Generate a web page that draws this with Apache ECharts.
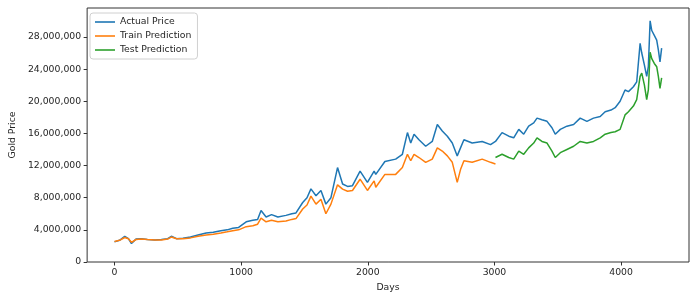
<!DOCTYPE html>
<html lang="en">
<head>
    <meta charset="UTF-8">
    <title>Gold Price</title>
    <script src="https://cdn.jsdelivr.net/npm/echarts@6/dist/echarts.min.js"></script>
    <style>
        html, body { margin: 0; padding: 0; background: #fff; }
        #chart { width: 694px; height: 297px; }
    </style>
</head>
<body>
<div id="chart"></div>
<script type="text/javascript">
    const days = [0, 40, 81, 110, 134, 170, 213, 260, 320, 370, 420, 449, 490, 540, 600, 660, 724, 780, 840, 890,
        934, 980, 1040, 1092, 1130, 1157, 1197, 1240, 1290, 1354, 1400, 1433, 1486, 1520, 1551, 1591, 1630, 1669, 1709, 1761,
        1801, 1840, 1879, 1939, 1997, 2050, 2063, 2135, 2220, 2273, 2313, 2339, 2365, 2404, 2457, 2509, 2549, 2588, 2628, 2667,
        2706, 2732, 2759, 2824, 2903, 2969, 3008, 3060, 3113, 3152, 3192, 3231, 3270, 3310, 3336, 3375, 3415, 3454, 3480, 3520,
        3572, 3625, 3677, 3730, 3782, 3835, 3874, 3920, 3953, 3992, 4031, 4058, 4097, 4123, 4150, 4163, 4184, 4202, 4215, 4229,
        4242, 4262, 4281, 4294, 4307, 4320];

    const actualPrice = [2500000, 2700000, 3200000, 2900000, 2300000, 2850000, 2900000, 2800000, 2750000, 2800000,
        2900000, 3200000, 2900000, 2950000, 3100000, 3350000, 3600000, 3700000, 3900000, 4000000,
        4200000, 4300000, 5000000, 5200000, 5300000, 6400000, 5600000, 5900000, 5600000, 5800000,
        6000000, 6100000, 7400000, 8000000, 9100000, 8250000, 8900000, 7200000, 8000000, 11750000,
        9700000, 9400000, 9500000, 11300000, 9900000, 11300000, 10900000, 12500000, 12800000, 13400000,
        16100000, 14800000, 15900000, 15200000, 14400000, 15000000, 17100000, 16300000, 15650000, 14800000,
        13200000, 14200000, 15200000, 14800000, 15000000, 14600000, 15000000, 16100000, 15650000, 15450000,
        16500000, 15900000, 16900000, 17300000, 17900000, 17700000, 17500000, 16700000, 15900000, 16500000,
        16900000, 17100000, 17900000, 17500000, 17900000, 18100000, 18700000, 18900000, 19200000, 20000000,
        21400000, 21200000, 21800000, 22400000, 27200000, 26000000, 24500000, 23100000, 24300000, 30000000,
        28800000, 28200000, 27600000, 26400000, 24900000, 26600000];

    // train prediction covers the first part, null afterwards
    const trainPrediction = [2550000, 2700000, 3050000, 2900000, 2450000, 2800000, 2850000, 2800000, 2750000, 2750000,
        2850000, 3100000, 2900000, 2900000, 3000000, 3200000, 3350000, 3450000, 3600000, 3750000,
        3900000, 4000000, 4400000, 4500000, 4700000, 5450000, 5000000, 5200000, 5000000, 5100000,
        5300000, 5400000, 6600000, 7100000, 8200000, 7200000, 7800000, 6000000, 7200000, 9600000,
        9070000, 8800000, 8900000, 10300000, 8900000, 10100000, 9300000, 10900000, 10900000, 11750000,
        13400000, 12600000, 13400000, 13000000, 12400000, 12800000, 14200000, 13800000, 13200000, 12400000,
        9900000, 11500000, 12600000, 12400000, 12800000, 12400000, 12200000];

    // test prediction starts where train stops
    const testStart = 66; // index into days
    const testPrediction = [13000000, 13400000, 13000000, 12800000, 13800000, 13400000, 14200000, 14800000, 15450000,
        15000000, 14800000, 13800000, 13000000, 13600000, 14000000, 14400000, 15000000, 14800000, 15000000,
        15450000, 15900000, 16100000, 16200000, 16500000, 18300000, 18700000, 19400000, 20200000, 23100000,
        23500000, 22000000, 20200000, 21400000, 26100000, 25300000, 24700000, 24300000, 23100000, 21600000, 22900000];

    const xTicks = [0, 1000, 2000, 3000, 4000];
    const yTicks = [0, 4000000, 8000000, 12000000, 16000000, 20000000, 24000000, 28000000];

    const actualData = days.map((d, i) => [d, actualPrice[i]]);
    const trainData = trainPrediction.map((v, i) => [days[i], v]);
    const testData = testPrediction.map((v, i) => [days[testStart + i], v]);

    const textColor = '#262626';
    const font = 'DejaVu Sans';

    let chart = echarts.init(document.getElementById('chart'));
    let option = {
        animation: false,
        textStyle: {fontFamily: font},
        grid: {
            left: 86, right: 5, top: 8, bottom: 34,
            show: true, borderColor: '#333', borderWidth: 1,
            containLabel: false
        },
        legend: {
            orient: 'vertical',
            left: 90, top: 13,
            icon: 'rect',
            itemWidth: 20, itemHeight: 1.6,
            itemGap: 4,
            padding: [4, 6, 4, 5],
            borderColor: '#d0d0d0', borderWidth: 1, borderRadius: 3,
            backgroundColor: '#fff',
            textStyle: {fontSize: 9.3, color: textColor, fontFamily: font, lineHeight: 10},
            data: ['Actual Price', 'Train Prediction', 'Test Prediction']
        },
        xAxis: {
            type: 'value',
            min: -216, max: 4536,
            name: 'Days', nameLocation: 'middle', nameGap: 21,
            nameTextStyle: {fontSize: 9.3, color: textColor},
            axisLine: {show: false, onZero: false},
            splitLine: {show: false},
            axisTick: {show: true, length: 3.5, lineStyle: {color: '#333'}, customValues: xTicks},
            axisLabel: {fontSize: 9.3, color: textColor, margin: 6, customValues: xTicks,
                formatter: v => String(v)}
        },
        yAxis: {
            type: 'value',
            min: 0, max: 31600000,
            name: 'Gold Price', nameLocation: 'middle', nameGap: 63,
            nameTextStyle: {fontSize: 9.3, color: textColor},
            axisLine: {show: false, onZero: false},
            splitLine: {show: false},
            axisTick: {show: true, length: 3.5, lineStyle: {color: '#333'}, customValues: yTicks},
            axisLabel: {
                fontSize: 9.3, color: textColor, margin: 6, customValues: yTicks,
                formatter: v => v.toLocaleString('en-US')
            }
        },
        series: [
            {name: 'Actual Price', type: 'line', data: actualData, symbol: 'none',
                itemStyle: {color: '#1f77b4'}, lineStyle: {width: 1.5, color: '#1f77b4'}},
            {name: 'Train Prediction', type: 'line', data: trainData, symbol: 'none',
                itemStyle: {color: '#ff7f0e'}, lineStyle: {width: 1.5, color: '#ff7f0e'}},
            {name: 'Test Prediction', type: 'line', data: testData, symbol: 'none',
                itemStyle: {color: '#2ca02c'}, lineStyle: {width: 1.5, color: '#2ca02c'}}
        ]
    };
    chart.setOption(option);
</script>
</body>
</html>
